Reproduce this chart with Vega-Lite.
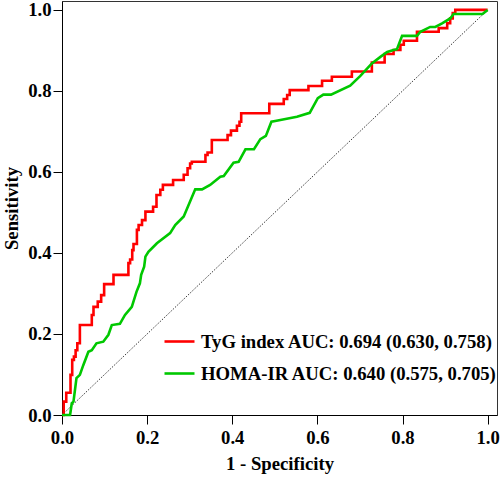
{
  "$schema": "https://vega.github.io/schema/vega-lite/v6.json",
  "width": 435,
  "height": 414,
  "autosize": {"type": "none"},
  "padding": {"left": 62, "top": 1, "right": 3, "bottom": 62},
  "background": "white",
  "config": {
    "font": "Liberation Serif",
    "view": {"stroke": "#333333", "strokeWidth": 1},
    "axis": {
      "grid": false,
      "domainColor": "#000000",
      "tickColor": "#000000",
      "labelFont": "Liberation Serif",
      "labelFontWeight": "bold",
      "labelFontSize": 18.7,
      "labelColor": "#000000",
      "titleFont": "Liberation Serif",
      "titleFontWeight": "bold",
      "titleFontSize": 18.7,
      "titleColor": "#000000",
      "tickSize": 9,
      "labelPadding": 2
    },
    "legend": {
      "labelFont": "Liberation Serif",
      "labelFontWeight": "bold",
      "labelFontSize": 18.7,
      "labelColor": "#000000",
      "labelLimit": 0
    }
  },
  "datasets": {
    "roc": [
      {"series": "TyG index AUC: 0.694 (0.630, 0.758)", "fpr": 0.0, "tpr": 0.0},
      {"series": "TyG index AUC: 0.694 (0.630, 0.758)", "fpr": 0.004, "tpr": 0.033},
      {"series": "TyG index AUC: 0.694 (0.630, 0.758)", "fpr": 0.010, "tpr": 0.055},
      {"series": "TyG index AUC: 0.694 (0.630, 0.758)", "fpr": 0.020, "tpr": 0.099},
      {"series": "TyG index AUC: 0.694 (0.630, 0.758)", "fpr": 0.024, "tpr": 0.136},
      {"series": "TyG index AUC: 0.694 (0.630, 0.758)", "fpr": 0.028, "tpr": 0.144},
      {"series": "TyG index AUC: 0.694 (0.630, 0.758)", "fpr": 0.032, "tpr": 0.160},
      {"series": "TyG index AUC: 0.694 (0.630, 0.758)", "fpr": 0.036, "tpr": 0.177},
      {"series": "TyG index AUC: 0.694 (0.630, 0.758)", "fpr": 0.042, "tpr": 0.222},
      {"series": "TyG index AUC: 0.694 (0.630, 0.758)", "fpr": 0.070, "tpr": 0.247},
      {"series": "TyG index AUC: 0.694 (0.630, 0.758)", "fpr": 0.074, "tpr": 0.267},
      {"series": "TyG index AUC: 0.694 (0.630, 0.758)", "fpr": 0.084, "tpr": 0.280},
      {"series": "TyG index AUC: 0.694 (0.630, 0.758)", "fpr": 0.092, "tpr": 0.296},
      {"series": "TyG index AUC: 0.694 (0.630, 0.758)", "fpr": 0.099, "tpr": 0.323},
      {"series": "TyG index AUC: 0.694 (0.630, 0.758)", "fpr": 0.121, "tpr": 0.346},
      {"series": "TyG index AUC: 0.694 (0.630, 0.758)", "fpr": 0.156, "tpr": 0.375},
      {"series": "TyG index AUC: 0.694 (0.630, 0.758)", "fpr": 0.160, "tpr": 0.384},
      {"series": "TyG index AUC: 0.694 (0.630, 0.758)", "fpr": 0.165, "tpr": 0.407},
      {"series": "TyG index AUC: 0.694 (0.630, 0.758)", "fpr": 0.168, "tpr": 0.422},
      {"series": "TyG index AUC: 0.694 (0.630, 0.758)", "fpr": 0.176, "tpr": 0.457},
      {"series": "TyG index AUC: 0.694 (0.630, 0.758)", "fpr": 0.180, "tpr": 0.469},
      {"series": "TyG index AUC: 0.694 (0.630, 0.758)", "fpr": 0.188, "tpr": 0.481},
      {"series": "TyG index AUC: 0.694 (0.630, 0.758)", "fpr": 0.196, "tpr": 0.502},
      {"series": "TyG index AUC: 0.694 (0.630, 0.758)", "fpr": 0.214, "tpr": 0.514},
      {"series": "TyG index AUC: 0.694 (0.630, 0.758)", "fpr": 0.222, "tpr": 0.543},
      {"series": "TyG index AUC: 0.694 (0.630, 0.758)", "fpr": 0.231, "tpr": 0.556},
      {"series": "TyG index AUC: 0.694 (0.630, 0.758)", "fpr": 0.237, "tpr": 0.568},
      {"series": "TyG index AUC: 0.694 (0.630, 0.758)", "fpr": 0.261, "tpr": 0.580},
      {"series": "TyG index AUC: 0.694 (0.630, 0.758)", "fpr": 0.286, "tpr": 0.593},
      {"series": "TyG index AUC: 0.694 (0.630, 0.758)", "fpr": 0.295, "tpr": 0.609},
      {"series": "TyG index AUC: 0.694 (0.630, 0.758)", "fpr": 0.301, "tpr": 0.621},
      {"series": "TyG index AUC: 0.694 (0.630, 0.758)", "fpr": 0.305, "tpr": 0.625},
      {"series": "TyG index AUC: 0.694 (0.630, 0.758)", "fpr": 0.337, "tpr": 0.642},
      {"series": "TyG index AUC: 0.694 (0.630, 0.758)", "fpr": 0.342, "tpr": 0.648},
      {"series": "TyG index AUC: 0.694 (0.630, 0.758)", "fpr": 0.352, "tpr": 0.679},
      {"series": "TyG index AUC: 0.694 (0.630, 0.758)", "fpr": 0.389, "tpr": 0.691},
      {"series": "TyG index AUC: 0.694 (0.630, 0.758)", "fpr": 0.397, "tpr": 0.702},
      {"series": "TyG index AUC: 0.694 (0.630, 0.758)", "fpr": 0.411, "tpr": 0.714},
      {"series": "TyG index AUC: 0.694 (0.630, 0.758)", "fpr": 0.417, "tpr": 0.724},
      {"series": "TyG index AUC: 0.694 (0.630, 0.758)", "fpr": 0.421, "tpr": 0.745},
      {"series": "TyG index AUC: 0.694 (0.630, 0.758)", "fpr": 0.487, "tpr": 0.768},
      {"series": "TyG index AUC: 0.694 (0.630, 0.758)", "fpr": 0.521, "tpr": 0.780},
      {"series": "TyG index AUC: 0.694 (0.630, 0.758)", "fpr": 0.529, "tpr": 0.790},
      {"series": "TyG index AUC: 0.694 (0.630, 0.758)", "fpr": 0.535, "tpr": 0.802},
      {"series": "TyG index AUC: 0.694 (0.630, 0.758)", "fpr": 0.579, "tpr": 0.812},
      {"series": "TyG index AUC: 0.694 (0.630, 0.758)", "fpr": 0.611, "tpr": 0.825},
      {"series": "TyG index AUC: 0.694 (0.630, 0.758)", "fpr": 0.634, "tpr": 0.835},
      {"series": "TyG index AUC: 0.694 (0.630, 0.758)", "fpr": 0.681, "tpr": 0.848},
      {"series": "TyG index AUC: 0.694 (0.630, 0.758)", "fpr": 0.728, "tpr": 0.870},
      {"series": "TyG index AUC: 0.694 (0.630, 0.758)", "fpr": 0.758, "tpr": 0.891},
      {"series": "TyG index AUC: 0.694 (0.630, 0.758)", "fpr": 0.779, "tpr": 0.901},
      {"series": "TyG index AUC: 0.694 (0.630, 0.758)", "fpr": 0.795, "tpr": 0.914},
      {"series": "TyG index AUC: 0.694 (0.630, 0.758)", "fpr": 0.803, "tpr": 0.924},
      {"series": "TyG index AUC: 0.694 (0.630, 0.758)", "fpr": 0.834, "tpr": 0.946},
      {"series": "TyG index AUC: 0.694 (0.630, 0.758)", "fpr": 0.885, "tpr": 0.955},
      {"series": "TyG index AUC: 0.694 (0.630, 0.758)", "fpr": 0.905, "tpr": 0.967},
      {"series": "TyG index AUC: 0.694 (0.630, 0.758)", "fpr": 0.912, "tpr": 0.979},
      {"series": "TyG index AUC: 0.694 (0.630, 0.758)", "fpr": 0.918, "tpr": 0.992},
      {"series": "TyG index AUC: 0.694 (0.630, 0.758)", "fpr": 0.924, "tpr": 1.0},
      {"series": "TyG index AUC: 0.694 (0.630, 0.758)", "fpr": 1.0, "tpr": 1.0},
      {"series": "HOMA-IR AUC: 0.640 (0.575, 0.705)", "fpr": 0.0, "tpr": 0.0},
      {"series": "HOMA-IR AUC: 0.640 (0.575, 0.705)", "fpr": 0.019, "tpr": 0.0},
      {"series": "HOMA-IR AUC: 0.640 (0.575, 0.705)", "fpr": 0.023, "tpr": 0.029},
      {"series": "HOMA-IR AUC: 0.640 (0.575, 0.705)", "fpr": 0.027, "tpr": 0.033},
      {"series": "HOMA-IR AUC: 0.640 (0.575, 0.705)", "fpr": 0.034, "tpr": 0.091},
      {"series": "HOMA-IR AUC: 0.640 (0.575, 0.705)", "fpr": 0.042, "tpr": 0.099},
      {"series": "HOMA-IR AUC: 0.640 (0.575, 0.705)", "fpr": 0.050, "tpr": 0.123},
      {"series": "HOMA-IR AUC: 0.640 (0.575, 0.705)", "fpr": 0.062, "tpr": 0.156},
      {"series": "HOMA-IR AUC: 0.640 (0.575, 0.705)", "fpr": 0.070, "tpr": 0.160},
      {"series": "HOMA-IR AUC: 0.640 (0.575, 0.705)", "fpr": 0.081, "tpr": 0.177},
      {"series": "HOMA-IR AUC: 0.640 (0.575, 0.705)", "fpr": 0.097, "tpr": 0.181},
      {"series": "HOMA-IR AUC: 0.640 (0.575, 0.705)", "fpr": 0.109, "tpr": 0.198},
      {"series": "HOMA-IR AUC: 0.640 (0.575, 0.705)", "fpr": 0.117, "tpr": 0.222},
      {"series": "HOMA-IR AUC: 0.640 (0.575, 0.705)", "fpr": 0.136, "tpr": 0.225},
      {"series": "HOMA-IR AUC: 0.640 (0.575, 0.705)", "fpr": 0.148, "tpr": 0.247},
      {"series": "HOMA-IR AUC: 0.640 (0.575, 0.705)", "fpr": 0.164, "tpr": 0.267},
      {"series": "HOMA-IR AUC: 0.640 (0.575, 0.705)", "fpr": 0.175, "tpr": 0.304},
      {"series": "HOMA-IR AUC: 0.640 (0.575, 0.705)", "fpr": 0.183, "tpr": 0.325},
      {"series": "HOMA-IR AUC: 0.640 (0.575, 0.705)", "fpr": 0.186, "tpr": 0.346},
      {"series": "HOMA-IR AUC: 0.640 (0.575, 0.705)", "fpr": 0.193, "tpr": 0.366},
      {"series": "HOMA-IR AUC: 0.640 (0.575, 0.705)", "fpr": 0.196, "tpr": 0.391},
      {"series": "HOMA-IR AUC: 0.640 (0.575, 0.705)", "fpr": 0.203, "tpr": 0.403},
      {"series": "HOMA-IR AUC: 0.640 (0.575, 0.705)", "fpr": 0.223, "tpr": 0.424},
      {"series": "HOMA-IR AUC: 0.640 (0.575, 0.705)", "fpr": 0.254, "tpr": 0.449},
      {"series": "HOMA-IR AUC: 0.640 (0.575, 0.705)", "fpr": 0.266, "tpr": 0.469},
      {"series": "HOMA-IR AUC: 0.640 (0.575, 0.705)", "fpr": 0.286, "tpr": 0.490},
      {"series": "HOMA-IR AUC: 0.640 (0.575, 0.705)", "fpr": 0.313, "tpr": 0.557},
      {"series": "HOMA-IR AUC: 0.640 (0.575, 0.705)", "fpr": 0.329, "tpr": 0.557},
      {"series": "HOMA-IR AUC: 0.640 (0.575, 0.705)", "fpr": 0.348, "tpr": 0.568},
      {"series": "HOMA-IR AUC: 0.640 (0.575, 0.705)", "fpr": 0.372, "tpr": 0.588},
      {"series": "HOMA-IR AUC: 0.640 (0.575, 0.705)", "fpr": 0.380, "tpr": 0.590},
      {"series": "HOMA-IR AUC: 0.640 (0.575, 0.705)", "fpr": 0.403, "tpr": 0.623},
      {"series": "HOMA-IR AUC: 0.640 (0.575, 0.705)", "fpr": 0.415, "tpr": 0.625},
      {"series": "HOMA-IR AUC: 0.640 (0.575, 0.705)", "fpr": 0.431, "tpr": 0.656},
      {"series": "HOMA-IR AUC: 0.640 (0.575, 0.705)", "fpr": 0.451, "tpr": 0.656},
      {"series": "HOMA-IR AUC: 0.640 (0.575, 0.705)", "fpr": 0.466, "tpr": 0.681},
      {"series": "HOMA-IR AUC: 0.640 (0.575, 0.705)", "fpr": 0.479, "tpr": 0.689},
      {"series": "HOMA-IR AUC: 0.640 (0.575, 0.705)", "fpr": 0.492, "tpr": 0.724},
      {"series": "HOMA-IR AUC: 0.640 (0.575, 0.705)", "fpr": 0.501, "tpr": 0.726},
      {"series": "HOMA-IR AUC: 0.640 (0.575, 0.705)", "fpr": 0.552, "tpr": 0.736},
      {"series": "HOMA-IR AUC: 0.640 (0.575, 0.705)", "fpr": 0.582, "tpr": 0.746},
      {"series": "HOMA-IR AUC: 0.640 (0.575, 0.705)", "fpr": 0.601, "tpr": 0.782},
      {"series": "HOMA-IR AUC: 0.640 (0.575, 0.705)", "fpr": 0.614, "tpr": 0.791},
      {"series": "HOMA-IR AUC: 0.640 (0.575, 0.705)", "fpr": 0.632, "tpr": 0.791},
      {"series": "HOMA-IR AUC: 0.640 (0.575, 0.705)", "fpr": 0.677, "tpr": 0.813},
      {"series": "HOMA-IR AUC: 0.640 (0.575, 0.705)", "fpr": 0.701, "tpr": 0.837},
      {"series": "HOMA-IR AUC: 0.640 (0.575, 0.705)", "fpr": 0.728, "tpr": 0.868},
      {"series": "HOMA-IR AUC: 0.640 (0.575, 0.705)", "fpr": 0.748, "tpr": 0.884},
      {"series": "HOMA-IR AUC: 0.640 (0.575, 0.705)", "fpr": 0.764, "tpr": 0.896},
      {"series": "HOMA-IR AUC: 0.640 (0.575, 0.705)", "fpr": 0.779, "tpr": 0.901},
      {"series": "HOMA-IR AUC: 0.640 (0.575, 0.705)", "fpr": 0.787, "tpr": 0.903},
      {"series": "HOMA-IR AUC: 0.640 (0.575, 0.705)", "fpr": 0.799, "tpr": 0.936},
      {"series": "HOMA-IR AUC: 0.640 (0.575, 0.705)", "fpr": 0.834, "tpr": 0.936},
      {"series": "HOMA-IR AUC: 0.640 (0.575, 0.705)", "fpr": 0.842, "tpr": 0.946},
      {"series": "HOMA-IR AUC: 0.640 (0.575, 0.705)", "fpr": 0.865, "tpr": 0.958},
      {"series": "HOMA-IR AUC: 0.640 (0.575, 0.705)", "fpr": 0.877, "tpr": 0.958},
      {"series": "HOMA-IR AUC: 0.640 (0.575, 0.705)", "fpr": 0.893, "tpr": 0.967},
      {"series": "HOMA-IR AUC: 0.640 (0.575, 0.705)", "fpr": 0.912, "tpr": 0.979},
      {"series": "HOMA-IR AUC: 0.640 (0.575, 0.705)", "fpr": 0.920, "tpr": 0.990},
      {"series": "HOMA-IR AUC: 0.640 (0.575, 0.705)", "fpr": 0.988, "tpr": 0.990},
      {"series": "HOMA-IR AUC: 0.640 (0.575, 0.705)", "fpr": 1.0, "tpr": 1.0}
    ],
    "diag": [
      {"fpr": 0.0, "tpr": 0.0},
      {"fpr": 1.0, "tpr": 1.0}
    ]
  },
  "layer": [
    {
      "data": {"name": "diag"},
      "mark": {"type": "line", "stroke": "#222222", "strokeWidth": 0.9, "strokeDash": [1.5, 1.5]},
      "encoding": {
        "x": {"field": "fpr", "type": "quantitative"},
        "y": {"field": "tpr", "type": "quantitative"}
      }
    },
    {
      "data": {"name": "roc"},
      "transform": [{"filter": "datum.series === 'TyG index AUC: 0.694 (0.630, 0.758)'"}],
      "mark": {"type": "line", "interpolate": "step-after", "strokeWidth": 2.6},
      "encoding": {
        "x": {"field": "fpr", "type": "quantitative"},
        "y": {"field": "tpr", "type": "quantitative"},
        "color": {"field": "series", "type": "nominal"}
      }
    },
    {
      "data": {"name": "roc"},
      "transform": [{"filter": "datum.series === 'HOMA-IR AUC: 0.640 (0.575, 0.705)'"}],
      "mark": {"type": "line", "interpolate": "linear", "strokeWidth": 2.6},
      "encoding": {
        "x": {"field": "fpr", "type": "quantitative"},
        "y": {"field": "tpr", "type": "quantitative"},
        "color": {"field": "series", "type": "nominal"}
      }
    }
  ],
  "resolve": {"scale": {"color": "shared", "x": "shared", "y": "shared"}},
  "encoding": {
    "x": {
      "field": "fpr", "type": "quantitative",
      "scale": {"domain": [0, 1.022], "nice": false, "zero": false},
      "axis": {"title": "1 - Specificity", "values": [0, 0.2, 0.4, 0.6, 0.8, 1.0], "format": ".1f", "titlePadding": 8, "labelPadding": 4, "labelFlush": false}
    },
    "y": {
      "field": "tpr", "type": "quantitative",
      "scale": {"domain": [0, 1.022], "nice": false, "zero": false},
      "axis": {"title": "Sensitivity", "values": [0, 0.2, 0.4, 0.6, 0.8, 1.0], "format": ".1f", "titlePadding": 6, "labelPadding": 2, "labelFlush": false}
    },
    "color": {
      "field": "series", "type": "nominal",
      "scale": {
        "domain": ["TyG index AUC: 0.694 (0.630, 0.758)", "HOMA-IR AUC: 0.640 (0.575, 0.705)"],
        "range": ["#FF0000", "#00C800"]
      },
      "legend": {
        "title": null,
        "orient": "none",
        "legendX": 101,
        "legendY": 324,
        "symbolType": "stroke",
        "symbolSize": 900,
        "symbolStrokeWidth": 2.6,
        "labelOffset": 5,
        "rowPadding": 5,
        "padding": 0,
        "labelLimit": 0
      }
    }
  }
}
